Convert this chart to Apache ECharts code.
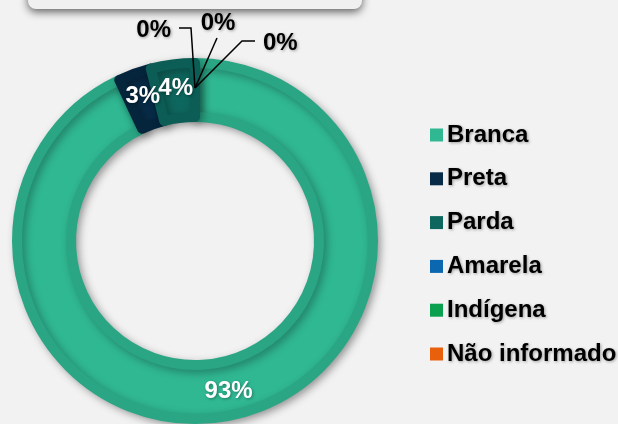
<!DOCTYPE html>
<html>
<head>
<meta charset="utf-8">
<script src="https://cdn.jsdelivr.net/npm/echarts@6/dist/echarts.min.js"></script>
<style>
  html, body { margin: 0; padding: 0; background: #f2f2f2; }
  #chart { width: 618px; height: 424px; }
</style>
</head>
<body>
<div id="chart"></div>
<script>
// dados (percentual por raça/cor)
const categories = ["Branca", "Preta", "Parda", "Amarela", "Indígena", "Não informado"];
const values = [93, 3, 4, 0, 0, 0];

// cores: preenchimento e borda (efeito de chanfro)
const fillColors = ["#30b893", "#082c48", "#0e675e", "#0a67b0", "#0aa04f", "#e8600c"];
const edgeColors = ["#2aa685", "#05253d", "#0b5d55", "#085a9b", "#088c45", "#cc540a"];

const CX = 195;
const CY = 241;
const FONT = "'Liberation Sans', Arial, sans-serif";

// posição dos rótulos de 0% (deslocamento relativo ao centro)
const zeroLabels = {
  3: { x: -24, y: -211, align: "right", line: [[0, -153], [-4, -213], [-16, -213]] },
  4: { x: 23, y: -218, align: "center", line: [[0, -153], [22, -203]] },
  5: { x: 68, y: -198, align: "left", line: [[0, -153], [47, -200], [60, -200]] },
};

const shadowText = {
  textShadowColor: "rgba(0,0,0,0.35)",
  textShadowBlur: 3,
  textShadowOffsetX: 1,
  textShadowOffsetY: 1,
};

const labelFont = {
  fontFamily: FONT,
  fontSize: 24,
  fontWeight: "bold",
};

// anel principal
const ringData = categories.map((name, i) => ({
  name: name,
  value: values[i],
  label: { show: values[i] > 0 },
  itemStyle: {
    color: fillColors[i],
    borderColor: edgeColors[i],
    borderWidth: values[i] > 0 ? 10 : 0,
  },
}));

// camada por cima só para os rótulos de 0% com linhas de chamada
const calloutData = categories.map((name, i) => ({
  name: name,
  value: values[i],
  label: { show: values[i] === 0 },
  labelLine: { show: values[i] === 0 },
}));

const chart = echarts.init(document.getElementById("chart"), null, { renderer: "canvas" });

chart.setOption({
  backgroundColor: "#f2f2f2",
  animation: false,
  graphic: [
    {
      type: "rect",
      shape: { x: 28, y: -20, width: 334, height: 29, r: 8 },
      style: {
        fill: "#f0f0f0",
        shadowBlur: 9,
        shadowOffsetY: 3,
        shadowColor: "rgba(0,0,0,0.6)",
      },
      z: 10,
    },
  ],
  legend: {
    orient: "vertical",
    left: 430,
    top: 123,
    padding: 0,
    itemWidth: 13,
    itemHeight: 13,
    itemGap: 19.8,
    icon: "rect",
    data: categories,
    itemStyle: { borderWidth: 0, shadowBlur: 0, shadowOffsetX: 0, shadowOffsetY: 0 },
    textStyle: Object.assign({
      color: "#000",
      lineHeight: 23,
      padding: [0, 0, 0, -1],
    }, labelFont, shadowText),
  },
  series: [
    {
      type: "pie",
      z: 2,
      center: [CX, CY],
      radius: [124, 178],
      startAngle: 90,
      clockwise: true,
      avoidLabelOverlap: false,
      minShowLabelAngle: 0,
      percentPrecision: 0,
      itemStyle: {
        shadowBlur: 8,
        shadowOffsetX: 3,
        shadowOffsetY: 3,
        shadowColor: "rgba(0,0,0,0.3)",
      },
      label: Object.assign({
        position: "inside",
        formatter: "{d}%",
        color: "#fff",
      }, labelFont, shadowText),
      labelLine: { show: false },
      labelLayout: { hideOverlap: false },
      emphasis: { disabled: true },
      data: ringData,
    },
    {
      type: "pie",
      z: 5,
      silent: true,
      center: [CX, CY],
      radius: [124, 178],
      startAngle: 90,
      clockwise: true,
      avoidLabelOverlap: false,
      percentPrecision: 0,
      itemStyle: { color: "rgba(0,0,0,0)", borderWidth: 0 },
      label: Object.assign({
        position: "outside",
        formatter: "{d}%",
        color: "#000",
      }, labelFont, shadowText),
      labelLine: {
        showAbove: true,
        lineStyle: { color: "#000", width: 1.5 },
      },
      emphasis: { disabled: true },
      labelLayout: (params) => {
        const z = zeroLabels[params.dataIndex];
        if (!z) return { hideOverlap: false };
        return {
          x: CX + z.x,
          y: CY + z.y,
          align: z.align,
          verticalAlign: "middle",
          hideOverlap: false,
          labelLinePoints: z.line.map((p) => [CX + p[0], CY + p[1]]),
        };
      },
      data: calloutData,
    },
  ],
});
</script>
</body>
</html>
